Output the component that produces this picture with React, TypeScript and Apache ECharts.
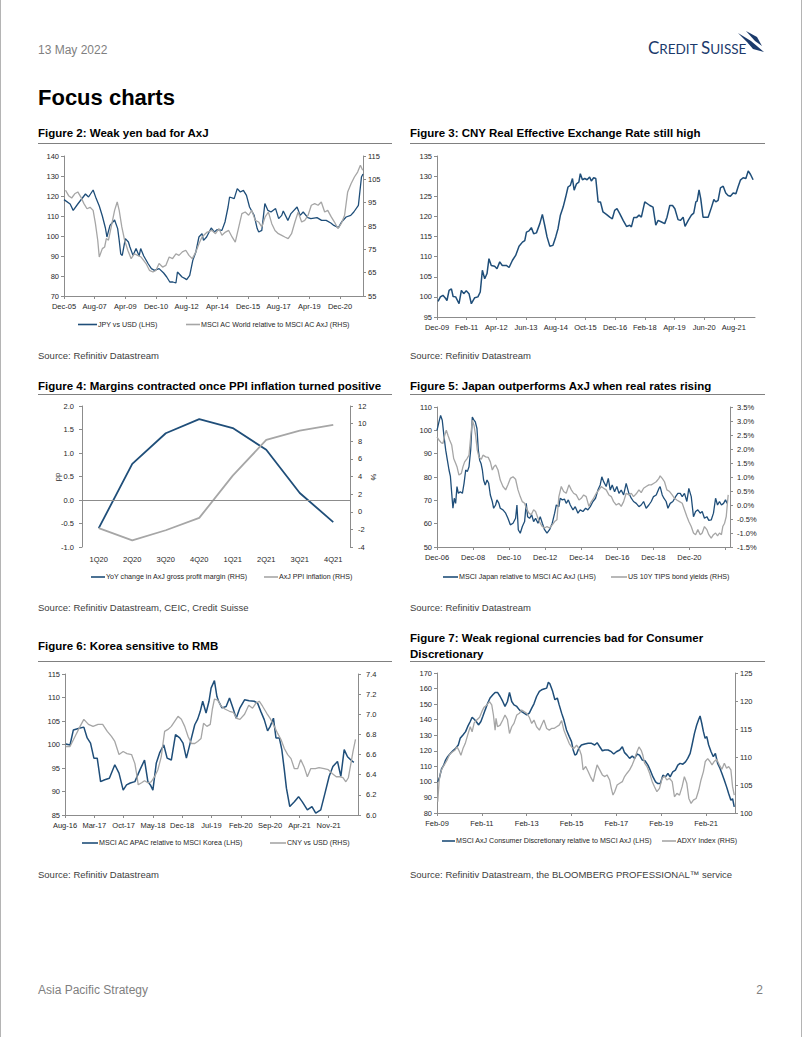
import React, { useEffect, useRef } from 'react';
import * as echarts from 'echarts';

const BLUE = '#1f4e79';
const GREY = '#a6a6a6';
const AXIS = '#8c8c8c';
const TXT = '#262626';
const SANS = "'Liberation Sans', Arial, Helvetica, sans-serif";
const FS = 7.5;
const LEG_FS = 7.1;

// ---------- Figure 2 (months since Dec-05) ----------
const fig2Ticks = ['Dec-05', 'Aug-07', 'Apr-09', 'Dec-10', 'Aug-12', 'Apr-14', 'Dec-15', 'Aug-17', 'Apr-19', 'Dec-20'];
const fig2RhsBase = 55;
const fig2Jpy = [
  [0, 118.2], [4, 116], [6, 112.8], [9, 116], [11, 118], [14, 121], [16, 119.5], [19, 123], [21, 118.7], [23, 115],
  [25, 110], [27, 104], [28, 99.5], [30, 105.3], [33, 108], [35, 103.7], [36, 97.8], [37, 91], [38, 90.3], [40, 98.7],
  [42, 97], [43, 94.5], [45, 90.3], [47, 93.7], [49, 90], [50, 93.7], [52, 90], [55, 86], [57, 83.7], [59, 82.8],
  [62, 83.7], [65, 81.5], [67, 79.5], [69, 77], [71, 77], [73, 76.5], [74, 82], [77, 79.5], [79, 78.7], [80, 78.2],
  [82, 80.3], [84, 87.8], [86, 92], [88, 99.5], [90, 101.2], [91, 97.8], [93, 99.5], [96, 104], [98, 102], [100, 103.2],
  [103, 102.8], [105, 107], [107, 114.5], [108, 119.5], [111, 118.7], [113, 123.7], [115, 122], [117, 122.8], [119, 120.3], [121, 114.5],
  [124, 110.3], [126, 103.7], [127, 102], [129, 102.8], [131, 116.2], [133, 112.8], [135, 112], [138, 113.7], [140, 108.7], [142, 110.3],
  [143, 112.5], [146, 107.8], [148, 111.2], [152, 114.5], [154, 110.3], [156, 112], [159, 109.2], [161, 108.7], [165, 109.2], [168, 107.8],
  [171, 107.8], [174, 106.5], [176, 105.3], [179, 104.2], [181, 107], [184, 109.5], [187, 110.3], [189, 112], [192, 115.3], [194, 129.5], [195, 131],
];
const fig2Msci = [
  [1, 100.3], [3, 98], [5, 97], [7, 98.8], [9, 99.6], [11, 97.4], [13, 94.6], [15, 92.4], [17, 93], [19, 91.7],
  [20.5, 86], [22, 78.9], [23, 71.7], [25, 75.3], [26.5, 76], [27.6, 79.6], [29, 78.9], [31, 85.3], [33, 91.7], [34.7, 95.3],
  [36, 91.7], [37.7, 84.6], [39.5, 79], [41.6, 74.6], [43.8, 71], [45.9, 73.1], [48, 72.4], [50.3, 71.7], [53.5, 68.9], [55.7, 66],
  [58, 65.3], [60, 66], [62, 68.9], [64.3, 67.4], [66.4, 68.1], [68.6, 71.7], [70.8, 71], [73, 73.1], [75, 72.4], [77.2, 73.9],
  [79.4, 74.6], [81.5, 72.4], [83.7, 71], [86, 73.9], [88, 77.4], [90, 80.3], [93.4, 82.4], [96.6, 83.1], [98.8, 81.7], [101, 83.9],
  [103, 81], [105.3, 82.4], [107.4, 83.1], [109.6, 80.3], [111.7, 78.1], [114, 84.6], [116, 90.3], [118.2, 91], [120.4, 89.6], [122.5, 91.7],
  [124.7, 87.4], [127, 86.7], [129, 84.6], [131.2, 88.9], [133.3, 91], [135.5, 86], [137.6, 83.1], [139.8, 81.7], [142, 81], [144, 80.3],
  [146.2, 79.6], [148.4, 81.7], [150.6, 86.7], [152.7, 91], [155, 86.7], [157, 87.4], [159.2, 89.6], [161.3, 93.9], [163.5, 94.6], [165.7, 93.9],
  [167.8, 95.3], [170, 91], [172, 91.7], [174.3, 88.9], [176.4, 86.7], [178.6, 83.9], [180.8, 86], [183, 89.6], [185, 99.6], [187.2, 103.1],
  [189.4, 106], [191.5, 108.1], [193.3, 111], [194.8, 108.9],
];

// ---------- Figure 3 (months since Dec-09) ----------
const fig3Ticks = ['Dec-09', 'Feb-11', 'Apr-12', 'Jun-13', 'Aug-14', 'Oct-15', 'Dec-16', 'Feb-18', 'Apr-19', 'Jun-20', 'Aug-21'];
const fig3Reer = [
  [0.5, 98.9], [1.6, 100], [2.8, 100.4], [4.1, 99.6], [4.7, 99.1], [5.7, 101.6], [6.8, 102], [7.6, 100.1], [8.8, 100], [10.4, 98.3],
  [11.5, 101.6], [12.6, 100.8], [13.8, 101.5], [15.1, 100.8], [16.2, 98.3], [17.8, 99.8], [19.3, 100], [20.4, 101.2], [21.4, 106.6], [22.5, 104.5],
  [23.6, 105.8], [24.5, 109.5], [25.6, 107.8], [27.2, 107.6], [28.3, 107], [29.6, 108.7], [30.8, 107.8], [32.7, 107.8], [34, 107.3], [35.6, 109.1],
  [37.1, 110.3], [38.7, 112.6], [40.3, 113.6], [41.4, 114], [42.2, 116.1], [43.4, 116.4], [44.5, 117.2], [45.6, 115.7], [46.9, 115.9], [48.5, 118.2],
  [49.7, 120.5], [50.8, 117.8], [51.9, 114.9], [53.2, 112.6], [54.7, 112.8], [56, 114.9], [57.1, 117], [58.2, 120.3], [59.5, 122.3], [60.7, 124.8],
  [61.8, 127.3], [62.9, 127.7], [63.9, 129.4], [64.7, 126.5], [65.8, 128.1], [66.9, 128.5], [67.6, 130.6], [68.6, 129.1], [69.7, 129.4], [70.8, 129.1],
  [72, 129.8], [72.8, 128.8], [73.9, 129.6], [74.9, 129.4], [76, 123.6], [77.1, 123.6], [78.3, 121.1], [79.9, 120.5], [81.5, 119.8], [82.7, 119.4],
  [83.8, 121.5], [84.9, 121.9], [86.2, 120.7], [87.8, 119], [89.4, 117.5], [90.9, 117.8], [91.7, 117.4], [92.8, 119.7], [94.1, 119.7], [95.3, 120.3],
  [96.4, 119.8], [98, 123.6], [99.1, 123.2], [100.4, 122.7], [101.9, 122.3], [103.2, 117.8], [104.3, 119], [105.9, 118.6], [107.4, 118.2], [108.5, 119.8],
  [109.8, 122.7], [111.1, 122.7], [112.2, 121.9], [113.7, 119.2], [114.8, 119], [116.1, 119.8], [117, 117.5], [118.5, 119], [120, 120.3], [121.1, 120.8],
  [122.1, 123.6], [122.7, 123.8], [123.6, 126.6], [124.4, 124.4], [125.5, 119.8], [126.8, 119.8], [127.9, 119.8], [129.5, 122.3], [130.6, 124.2], [131.5, 123.6],
  [132.6, 124], [133.7, 127.1], [135, 127.5], [136.2, 125.8], [137.3, 125.2], [138.4, 125], [139.7, 125.8], [141, 125.6], [142, 127.3], [143.1, 129],
  [144.4, 129.6], [145.7, 129.4], [146.8, 131.3], [147.9, 130.4], [149.1, 129.1],
];

// ---------- Figure 4 (quarters) ----------
const fig4Quarters = ['1Q20', '2Q20', '3Q20', '4Q20', '1Q21', '2Q21', '3Q21', '4Q21'];
const fig4Margin = [-0.6, 0.77, 1.42, 1.72, 1.53, 1.07, 0.15, -0.47];
const fig4Ppi = [-1.85, -3.25, -2.1, -0.7, 4.1, 8.15, 9.2, 9.85];

// ---------- Figure 5 (months since Dec-06) ----------
const fig5Ticks = ['Dec-06', 'Dec-08', 'Dec-10', 'Dec-12', 'Dec-14', 'Dec-16', 'Dec-18', 'Dec-20'];
const fig5Japan = [
  [0, 100], [1.3, 103.6], [2.4, 106.4], [3.5, 104.3], [4.7, 97.2], [5.8, 91.5], [6.9, 87.2], [8, 83], [8.9, 80.4], [9.8, 73],
  [10.6, 66.6], [11.5, 70.9], [12.4, 68.7], [13.3, 75.9], [14.2, 73], [15.5, 73.7], [16.9, 73], [18, 77.3], [19.1, 83], [20.2, 82.3],
  [21.3, 84.4], [22.4, 91.5], [23.5, 105.7], [24.4, 104.6], [25.5, 103.6], [26.6, 100.8], [27.5, 91.5], [28.4, 87.2], [29.3, 85.8], [30.2, 83],
  [31, 78.7], [32.1, 76.6], [33.3, 78.7], [34.4, 77.3], [35.5, 72.3], [36.8, 69.5], [37.7, 66.6], [39, 68], [39.9, 70.2], [41.2, 68.7],
  [42.1, 66.6], [43.9, 65.9], [45.7, 64.5], [47.2, 62.3], [48.8, 59.5], [50.6, 60.2], [52.3, 62.3], [53.2, 68], [54.1, 57.4], [55.4, 55.9],
  [56.8, 58.8], [58.3, 60.9], [59.4, 68.7], [60.3, 63], [61.6, 62.3], [63, 63.8], [64.3, 60.9], [65.6, 62.3], [67.2, 60.2], [68.7, 63],
  [70.1, 60.2], [71.6, 57.4], [73.2, 55.9], [74.9, 57.4], [76.7, 60.2], [78.3, 64.5], [79.4, 68], [81.1, 67.3], [82, 70.9], [83.4, 70.2],
  [84.9, 70.5], [86, 68.7], [87.4, 70.2], [88.7, 68], [90.5, 65.9], [92, 67.3], [93.8, 64.5], [95.3, 65.9], [97.1, 65.2], [98.9, 66.6],
  [100.4, 65.9], [102, 67.3], [103.8, 69.5], [105.5, 70.9], [107.1, 74.4], [108.6, 76.6], [109.7, 80.1], [110.9, 78], [112.6, 75.9], [114, 79.4],
  [115.3, 74.4], [116.6, 76.6], [118.2, 73.7], [119.7, 75.9], [121.1, 73], [122.6, 74.4], [124.2, 72.3], [125.9, 77.3], [127.7, 73], [129.3, 70.9],
  [130.8, 69.5], [132.6, 68.7], [134.4, 67.3], [135.9, 68], [137.5, 69.5], [139.2, 66.6], [141, 68], [142.6, 69.5], [144.1, 71.6], [145.9, 72.3],
  [147.7, 75.1], [148.5, 75.9], [149.9, 72.3], [151, 70.9], [152.5, 69.5], [153.7, 66.6], [155.2, 68.7], [157, 69.5], [158.8, 71.6], [160.3, 73],
  [161.9, 73], [163.2, 71.6], [164.7, 73], [166.3, 69.5], [167.6, 75.1], [169.2, 71.6], [170.7, 63], [172.1, 65.2], [173.6, 65.9], [175.2, 64.5],
  [176.5, 65.2], [178, 62.3], [179.6, 63], [180.9, 61.4], [182.5, 61.6], [184, 64.5], [185.4, 70.9], [186.7, 68], [188, 69.5], [189.3, 68],
  [190.7, 68.7], [192, 70.2], [193.1, 68.7],
];
const fig5Tips = [
  [0, 2.43], [1.3, 2.32], [2.9, 2.22], [4, 2.2], [5.1, 2.49], [6.2, 2.67], [7.3, 2.49], [8.4, 2.32], [9.8, 2.14], [11.1, 1.66],
  [12.4, 1.49], [13.3, 1.37], [14.6, 1.07], [16.2, 1.13], [17.3, 1.37], [18.4, 1.54], [20, 1.66], [21.3, 1.78], [22.4, 2.43], [23.5, 3.03],
  [24.6, 2.85], [25.7, 2.49], [26.8, 1.96], [27.9, 1.72], [29.5, 1.63], [30.6, 1.78], [32.4, 1.72], [34.1, 1.7], [35.5, 1.54], [36.8, 1.25],
  [37.9, 1.37], [39, 1.43], [40.6, 1.25], [42.1, 0.89], [43.9, 0.66], [45.7, 0.54], [47.2, 0.72], [48.8, 0.95], [50.6, 1.01], [52.3, 0.92],
  [53.9, 0.54], [55.4, 0.3], [56.8, 0.12], [58.3, 0.06], [59.4, -0.11], [61.2, -0.29], [62.7, -0.35], [64.3, -0.17], [65.6, -0.23], [67.2, -0.47],
  [68.7, -0.65], [70.1, -0.77], [71.6, -0.82], [73.2, -0.77], [74.9, -0.82], [76.7, -0.71], [78.3, -0.59], [79.8, -0.53], [81.1, 0.3], [82.7, 0.66],
  [84.3, 0.48], [86, 0.42], [87.8, 0.72], [89.4, 0.54], [90.9, 0.42], [92.7, 0.36], [94.5, 0.18], [96, 0.24], [97.6, 0.36], [99.3, 0.3],
  [101.1, -0.05], [102.7, 0.12], [104.2, 0.24], [106, 0.42], [107.8, 0.54], [109.3, 0.66], [110.9, 0.6], [112.6, 0.54], [114.4, 0.36], [116, 0.3],
  [117.5, 0.12], [119.3, 0], [121.1, 0.06], [122.6, -0.05], [124.2, 0.12], [125.9, 0.42], [127.7, 0.36], [129.3, 0.42], [130.8, 0.3], [132.6, 0.4],
  [134.4, 0.54], [135.9, 0.44], [137.5, 0.6], [139.2, 0.66], [141, 0.72], [142.6, 0.72], [144.1, 0.77], [145.9, 0.83], [147.7, 0.95], [148.5, 1.04],
  [149.9, 0.95], [151.4, 0.83], [153, 0.54], [154.8, 0.48], [156.5, 0.36], [158.1, 0.24], [159.6, 0.18], [161.4, 0.12], [163.2, 0.06], [164.7, -0.17],
  [166.3, -0.41], [167.6, -0.59], [169.2, -0.77], [170.7, -1.0], [172.1, -1.06], [173.6, -0.88], [175.2, -1.06], [176.5, -1.0], [178, -0.77], [179.6, -0.88],
  [180.9, -1.06], [182.5, -1.18], [184, -1.06], [185.4, -1.0], [186.7, -1.1], [188, -1.0], [189.3, -1.06], [190.2, -0.77], [191.4, -0.65], [192.5, -0.41],
  [193.1, -0.05], [193.8, 0.36],
];

// ---------- Figure 6 (months since Aug-16) ----------
const fig6Ticks = ['Aug-16', 'Mar-17', 'Oct-17', 'May-18', 'Dec-18', 'Jul-19', 'Feb-20', 'Sep-20', 'Apr-21', 'Nov-21'];
const fig6Korea = [
  [0.2, 100.1], [1.2, 99.9], [2, 103.1], [2.8, 103.3], [3.6, 103.5], [4.5, 103.7], [5.3, 101.4], [6.1, 100.3], [6.9, 97.1], [7.7, 97.1],
  [8.5, 92.1], [9.5, 92.5], [10.6, 92.8], [11.9, 95.7], [12.9, 93.9], [13.9, 90.3], [14.7, 91.4], [15.6, 91.8], [16.7, 92.1], [17.9, 94.6],
  [19, 96.7], [19.8, 92.1], [20.4, 91.4], [21, 90.3], [21.8, 96], [22.6, 98.2], [23.6, 99.9], [24.4, 97.1], [25.4, 96.7], [26.4, 102.1],
  [27.4, 101.4], [28.2, 100.3], [29, 97.1], [29.9, 100.3], [31, 104.2], [31.7, 105.4], [32.3, 107], [32.9, 109.2], [33.7, 106.7], [34.4, 109.2],
  [34.9, 112], [35.7, 113.6], [36.3, 110.2], [36.7, 109.2], [37.5, 107.8], [38.5, 108.1], [39.3, 109.9], [40.1, 107.8], [40.9, 105.6], [41.8, 107.8],
  [42.9, 109.5], [44, 109.3], [45.2, 109.2], [46, 108.8], [46.8, 107], [47.6, 105.3], [48.4, 102.9], [49, 103.8], [49.8, 105.6], [50.4, 101.4],
  [51.2, 101.4], [51.8, 98.9], [52.4, 94.6], [52.9, 90.7], [53.7, 86.8], [54.8, 87.8], [55.8, 88.9], [56.7, 87.8], [57.9, 86.1], [59, 86.8],
  [59.9, 85.4], [61.1, 86.1], [62.1, 89.6], [63.1, 93.2], [64, 95.3], [65.1, 96.4], [65.9, 93.2], [66.7, 98.9], [67.5, 97.4], [68.3, 96.7], [69, 96.2],
];
const fig6Cny = [
  [0.2, 6.68], [1.2, 6.68], [2.4, 6.78], [3.6, 6.88], [4.5, 6.95], [5.6, 6.9], [6.7, 6.88], [7.9, 6.9], [9, 6.9], [10.1, 6.83],
  [11.1, 6.78], [11.9, 6.73], [12.9, 6.6], [13.9, 6.63], [14.8, 6.61], [15.9, 6.6], [16.7, 6.51], [17.1, 6.41], [17.5, 6.3], [18.3, 6.32],
  [19, 6.34], [19.8, 6.32], [20.6, 6.33], [21.4, 6.38], [22.2, 6.45], [23, 6.58], [23.8, 6.83], [24.6, 6.85], [25.4, 6.88], [26.2, 6.93],
  [27, 6.98], [27.8, 6.95], [28.6, 6.88], [29.4, 6.78], [30.2, 6.71], [31, 6.71], [31.7, 6.73], [32.5, 6.76], [33.1, 6.91], [33.9, 6.88],
  [34.7, 6.9], [35.2, 7.05], [35.7, 7.15], [36.5, 7.14], [37.3, 7.08], [38.3, 7.05], [39.3, 7.03], [40.2, 7.02], [41, 6.96], [41.8, 6.95],
  [42.9, 7.0], [43.9, 7.09], [44.8, 7.06], [45.6, 7.11], [46.4, 7.13], [47.2, 7.08], [48.2, 7.01], [49, 6.96], [50, 6.88], [50.8, 6.81],
  [51.6, 6.75], [52.4, 6.66], [53.2, 6.6], [54, 6.56], [54.8, 6.46], [55.6, 6.46], [56.3, 6.55], [57.1, 6.48], [57.9, 6.38], [58.7, 6.46],
  [59.8, 6.46], [60.7, 6.47], [61.9, 6.46], [62.9, 6.45], [63.9, 6.41], [64.8, 6.38], [65.6, 6.38], [66.4, 6.37], [67.1, 6.33], [67.7, 6.37],
  [68.3, 6.51], [68.8, 6.63], [69.4, 6.75],
];

// ---------- Figure 7 (months since Feb-09) ----------
const fig7Ticks = ['Feb-09', 'Feb-11', 'Feb-13', 'Feb-15', 'Feb-17', 'Feb-19', 'Feb-21'];
const fig7ConsDisc = [
  [0.4, 100], [1.4, 103.2], [2.5, 108.6], [3.6, 110.8], [4.6, 114], [5.7, 116.2], [7.1, 118.3], [8.5, 120], [10, 121.6], [11.4, 123.7],
  [12.4, 128], [13.9, 130.2], [15.3, 132.3], [16.4, 135.5], [17.8, 138.8], [18.8, 141.6], [19.9, 140.3], [21, 138.8], [22.2, 136.6], [23.5, 138.8],
  [24.5, 142], [25.8, 146.3], [27, 150.2], [28.4, 153.9], [29.9, 156], [31.1, 157.5], [32.4, 157.5], [33.8, 154.9], [35.2, 151.7], [36.4, 148.5],
  [37.7, 151.7], [38.8, 157.5], [40, 151.7], [41.2, 149.5], [42.7, 148.5], [44.1, 146.3], [45.3, 145.2], [46.6, 144.2], [48, 143.1], [49.4, 144.2],
  [50.7, 147.4], [51.9, 150.2], [53.3, 154.9], [54.8, 158.2], [56, 159.2], [57.2, 159.7], [58.7, 160.3], [59.6, 164], [60.4, 163.1], [61.9, 158.2],
  [63.1, 152.8], [64.4, 153.9], [65.4, 149.5], [66.7, 144.2], [67.9, 139.9], [69.3, 133.4], [70.8, 129.1], [72, 125.9], [72.9, 120.5], [73.8, 117.2],
  [74.7, 117.9], [75.9, 121.6], [77.3, 123.7], [79.1, 124.4], [80.9, 124.8], [82.7, 124.8], [84.4, 123.7], [85.7, 125.2], [87.1, 122.6], [88.5, 120],
  [89.8, 120.5], [91.6, 120.5], [93.3, 119.4], [94.6, 117.9], [96, 119.4], [97.8, 120.5], [99.2, 122.6], [100.4, 118.8], [101.7, 117.2], [103.1, 115.1],
  [104.5, 116.6], [105.8, 115.1], [107, 117.9], [108.4, 117.2], [109.9, 114], [111.3, 113.6], [112.9, 110.8], [114.1, 107.6], [115.6, 103.2], [117, 100],
  [118.2, 98.9], [119.5, 98.9], [120.9, 104.3], [122.3, 103.2], [123.6, 105.4], [124.8, 103.2], [126.2, 106.5], [127.6, 107.6], [128.9, 110.8], [130.1, 111.9],
  [131.6, 111.4], [133, 112.9], [134.2, 115.1], [135.5, 118.3], [136.5, 123.7], [137.8, 131.2], [139, 136.6], [140.1, 140.3], [140.8, 142.4], [141.7, 137.7],
  [142.6, 132.3], [143.5, 128], [144.4, 129.1], [145.4, 123.7], [146.7, 119.4], [147.9, 116.2], [149, 118.3], [150.2, 111.9], [151.5, 108.6], [152.5, 105.4],
  [153.8, 101.1], [155, 96.8], [156.1, 92.5], [157.3, 88.2], [158.2, 89.2], [159.1, 83.9],
];
const fig7Adxy = [
  [0.4, 102], [1.1, 105.6], [1.8, 107.1], [2.8, 108], [3.9, 108.6], [5.3, 109.4], [6.8, 110.5], [8.2, 110.9], [9.6, 111.2], [10.7, 111.8],
  [11.7, 111.2], [12.8, 110.3], [13.9, 111.5], [15.1, 112.4], [16.4, 113.9], [17.8, 115.4], [18.8, 114.5], [19.9, 116.1], [21.3, 116.6], [22.8, 117.1],
  [24, 118.1], [25.2, 118.9], [26.7, 119.3], [28.1, 119.9], [29.3, 119.3], [30.2, 117.5], [31.1, 114.8], [31.6, 116.9], [32.4, 115.4], [33.8, 115.7],
  [35.2, 116.6], [36.4, 117.5], [37.7, 116.7], [38.8, 114.2], [40, 115.4], [41.2, 116], [42.7, 117.5], [44.1, 117.8], [45.3, 118.4], [46.6, 118.1],
  [48, 117.8], [49.4, 117.1], [50.7, 116], [51.9, 116.6], [53.3, 115.4], [54.8, 114.8], [56, 115.7], [57.2, 116.6], [58.7, 115.1], [60.1, 114.8],
  [61.3, 115.1], [62.6, 115.1], [64, 115.4], [65.4, 115.7], [66.7, 116.5], [67.9, 114.8], [69.3, 113.6], [70.8, 112.4], [72, 111.8], [73.2, 111.5],
  [74.7, 112.1], [76.1, 111.5], [77.3, 110.3], [78.2, 107.7], [79.6, 108.3], [80.9, 107.4], [82.1, 106.5], [83.6, 105.6], [84.6, 107.1], [85.7, 108.6],
  [87.1, 107.7], [88.5, 106.8], [89.8, 106.5], [91, 106.8], [92.4, 105.9], [93.3, 104.4], [94.2, 103.2], [95.1, 103.8], [96.4, 105], [97.8, 105.3],
  [99.2, 105.6], [100.4, 106.5], [101.7, 107.1], [103.1, 107.7], [104.5, 108.6], [105.8, 109.7], [107, 110.9], [108.1, 111.8], [109.3, 111.2], [110.2, 110.3],
  [111.1, 108.9], [112.4, 108.3], [113.8, 107.1], [115.2, 105.6], [116.4, 104.7], [117.7, 103.8], [119.1, 104.4], [120.5, 106.2], [121.8, 106.6], [123, 105.9],
  [124.4, 106.2], [125.9, 105.6], [127.1, 102.9], [128.4, 103.5], [129.8, 103.2], [131.2, 104.7], [132.4, 106.5], [133.7, 105.3], [134.8, 102.6], [136, 101.7],
  [137.2, 102.3], [138.7, 102.6], [140.1, 104.1], [141.3, 105.9], [142.6, 107.4], [143.6, 109.2], [144.9, 109.7], [146.1, 109.2], [147.2, 108.6], [148.4, 109.2],
  [149.7, 109.6], [151.1, 108.6], [152.5, 107.8], [153.8, 108.9], [155, 108], [156.1, 108.3], [157.3, 107.7], [158.2, 104.7], [159.1, 103.2],
];

const lbl = { fontFamily: SANS, fontSize: FS, color: TXT };

function mkY(gi: number, position: string, c: any) {
  return {
    type: 'value', gridIndex: gi, position, min: c.min, max: c.max, interval: c.step,
    axisLine: { show: true, onZero: false, lineStyle: { color: AXIS, width: 1 } },
    axisTick: { show: true, length: 3, lineStyle: { color: AXIS } },
    splitLine: { show: false },
    axisLabel: { ...lbl, margin: c.margin ?? 5, formatter: c.fmt, showMinLabel: true, showMaxLabel: true },
  };
}

function buildOption() {
  const grid: any[] = [], xAxis: any[] = [], yAxis: any[] = [], series: any[] = [];
  function addPanel(p: any) {
    const gi = grid.length;
    grid.push({ left: p.left, top: p.top, width: p.width, height: p.height });
    const xi = xAxis.length;
    if (p.cats) {
      xAxis.push({
        type: 'category', gridIndex: gi, data: p.cats, boundaryGap: true,
        axisLine: { show: false, onZero: false }, axisTick: { show: false },
        axisLabel: { ...lbl, margin: 8, interval: 0 },
      });
    } else {
      const step = p.xStep;
      xAxis.push({
        type: 'value', gridIndex: gi, min: 0, max: p.xMax, interval: step,
        axisLine: { show: true, onZero: false, lineStyle: { color: AXIS, width: 1 } },
        axisTick: { show: true, length: 3, lineStyle: { color: AXIS } },
        splitLine: { show: false },
        axisLabel: {
          ...lbl, margin: 6, showMinLabel: true, showMaxLabel: false, hideOverlap: false,
          formatter: (v: number) => {
            const k = Math.round(v / step);
            return Math.abs(v - k * step) < 1e-6 && p.xLabels[k] ? p.xLabels[k] : '';
          },
        },
      });
    }
    const yl = yAxis.length;
    yAxis.push(mkY(gi, 'left', p.yl));
    let yr = yl;
    if (p.yr) { yr = yAxis.length; yAxis.push(mkY(gi, 'right', p.yr)); }
    p.series.forEach((s: any) => {
      series.push({
        type: 'line', name: s.name, xAxisIndex: xi, yAxisIndex: s.right ? yr : yl, data: s.data,
        showSymbol: false, symbol: 'none', smooth: false,
        lineStyle: { color: s.color, width: s.width ?? 1.3 }, itemStyle: { color: s.color },
        markLine: s.markLine, z: s.z ?? 2,
      });
    });
  }

  addPanel({
    left: 64, top: 156, width: 299, height: 140, xMax: 195, xStep: 20, xLabels: fig2Ticks,
    yl: { min: 70, max: 140, step: 10 },
    yr: { min: 0, max: 60, step: 10, fmt: (v: number) => String(v + fig2RhsBase) },
    series: [
      { name: 'JPY vs USD (LHS)', data: fig2Jpy, color: BLUE },
      { name: 'MSCI AC World relative to MSCI AC AxJ (RHS)', data: fig2Msci.map(([m, v]) => [m, v - fig2RhsBase]), color: GREY, right: true },
    ],
  });
  addPanel({
    left: 437, top: 156, width: 318, height: 161, xMax: 150, xStep: 14, xLabels: fig3Ticks,
    yl: { min: 95, max: 135, step: 5 },
    series: [{ name: 'CNY REER', data: fig3Reer, color: BLUE, width: 1.5 }],
  });
  addPanel({
    left: 82, top: 406, width: 268, height: 141, cats: fig4Quarters,
    yl: { min: -1, max: 2, step: 0.5, fmt: (v: number) => v.toFixed(1), margin: 8 },
    yr: { min: -4, max: 12, step: 2, margin: 8 },
    series: [
      {
        name: 'YoY change in AxJ gross profit margin (RHS)', data: fig4Margin, color: BLUE, width: 1.8,
        markLine: { silent: true, symbol: 'none', label: { show: false }, lineStyle: { color: AXIS, width: 1, type: 'solid' }, data: [{ yAxis: 0 }] },
      },
      { name: 'AxJ PPI inflation (RHS)', data: fig4Ppi, color: GREY, width: 1.8, right: true },
    ],
  });
  addPanel({
    left: 437, top: 407, width: 293, height: 140, xMax: 195, xStep: 24, xLabels: fig5Ticks,
    yl: { min: 50, max: 110, step: 10 },
    yr: { min: -1.5, max: 3.5, step: 0.5, fmt: (v: number) => v.toFixed(1) + '%', margin: 7 },
    series: [
      { name: 'MSCI Japan relative to MSCI AC AxJ (LHS)', data: fig5Japan, color: BLUE },
      { name: 'US 10Y TIPS bond yields (RHS)', data: fig5Tips, color: GREY, right: true },
    ],
  });
  addPanel({
    left: 65, top: 674, width: 293, height: 141, xMax: 70, xStep: 7, xLabels: fig6Ticks,
    yl: { min: 85, max: 115, step: 5 },
    yr: { min: 6.0, max: 7.4, step: 0.2, fmt: (v: number) => v.toFixed(1), margin: 8 },
    series: [
      { name: 'MSCI AC APAC relative to MSCI Korea (LHS)', data: fig6Korea, color: BLUE, width: 1.5 },
      { name: 'CNY vs USD (RHS)', data: fig6Cny, color: GREY, right: true },
    ],
  });
  addPanel({
    left: 437, top: 673, width: 298, height: 140, xMax: 159.5, xStep: 24, xLabels: fig7Ticks,
    yl: { min: 80, max: 170, step: 10 },
    yr: { min: 100, max: 125, step: 5 },
    series: [
      { name: 'MSCI AxJ Consumer Discretionary relative to MSCI AxJ (LHS)', data: fig7ConsDisc, color: BLUE, width: 1.5 },
      { name: 'ADXY Index (RHS)', data: fig7Adxy, color: GREY, right: true },
    ],
  });

  const g: any[] = [];
  const text = (x: number, y: number, t: string, o: any = {}) => g.push({
    type: 'text', x, y, rotation: o.rotation ?? 0, silent: true,
    style: {
      text: t, fill: o.color ?? TXT, fontSize: o.size ?? FS, fontFamily: o.family ?? SANS,
      fontWeight: o.weight ?? 'normal', textAlign: o.align ?? 'left', textVerticalAlign: 'middle',
    },
  });
  const line = (x1: number, y1: number, x2: number, y2: number, color: string, w = 1) => g.push({
    type: 'line', silent: true, shape: { x1, y1, x2, y2 }, style: { stroke: color, lineWidth: w },
  });
  const legend = (x1: number, x2: number, y: number, color: string, t: string) => {
    line(x1, y, x2, y, color, 1.6);
    text(x2 + 1, y, t, { size: LEG_FS });
  };

  // page frame
  line(0.5, 0, 0.5, 1037, '#b4b4b4');
  line(801.5, 0, 801.5, 1037, '#b4b4b4');

  // header
  text(38, 50, '13 May 2022', { size: 12, color: '#7f7f7f' });
  g.push({
    type: 'text', x: 648, y: 47, silent: true,
    style: {
      text: '{a|C}{b|REDIT} {a|S}{b|UISSE}', textVerticalAlign: 'middle', textAlign: 'left',
      rich: {
        a: { fontSize: 17, fontFamily: "Lato, 'Open Sans', sans-serif", fill: '#1b3a6b', color: '#1b3a6b', verticalAlign: 'bottom' },
        b: { fontSize: 13.5, fontFamily: "Lato, 'Open Sans', sans-serif", fill: '#1b3a6b', color: '#1b3a6b', verticalAlign: 'bottom' },
      },
    },
  });
  g.push({ type: 'polygon', silent: true, shape: { points: [[738, 33], [751, 41], [764, 52], [753, 49], [747, 42]] }, style: { fill: '#1b3a6b' } });
  g.push({ type: 'polygon', silent: true, shape: { points: [[746, 31], [757, 37], [762, 46], [755, 41]] }, style: { fill: '#1b3a6b' } });
  text(38, 97, 'Focus charts', { size: 22, weight: 'bold', color: '#000' });

  // titles
  const title = (x: number, y: number, t: string) => text(x, y, t, { size: 11.5, weight: 'bold', color: '#000' });
  title(38, 133, 'Figure 2: Weak yen bad for AxJ');
  title(410, 133, 'Figure 3: CNY Real Effective Exchange Rate still high');
  line(38, 143.5, 392, 143.5, '#808080');
  line(410, 143.5, 765, 143.5, '#808080');
  title(38, 386, 'Figure 4: Margins contracted once PPI inflation turned positive');
  title(410, 386, 'Figure 5: Japan outperforms AxJ when real rates rising');
  line(38, 394.5, 392, 394.5, '#808080');
  line(410, 394.5, 765, 394.5, '#808080');
  title(38, 646, 'Figure 6: Korea sensitive to RMB');
  title(410, 638, 'Figure 7: Weak regional currencies bad for Consumer');
  title(410, 654, 'Discretionary');
  line(38, 661.5, 392, 661.5, '#808080');
  line(410, 661.5, 765, 661.5, '#808080');

  // legends
  legend(78, 97, 324.5, BLUE, 'JPY vs USD (LHS)');
  legend(186, 200, 324.5, GREY, 'MSCI AC World relative to MSCI AC AxJ (RHS)');
  legend(91, 105, 577, BLUE, 'YoY change in AxJ gross profit margin (RHS)');
  legend(264, 278, 577, GREY, 'AxJ PPI inflation (RHS)');
  legend(443, 458, 577, BLUE, 'MSCI Japan relative to MSCI AC AxJ (LHS)');
  legend(611, 627, 577, GREY, 'US 10Y TIPS bond yields (RHS)');
  legend(82, 98, 843, BLUE, 'MSCI AC APAC relative to MSCI Korea (LHS)');
  legend(270, 286, 843, GREY, 'CNY vs USD (RHS)');
  legend(442, 455, 841, BLUE, 'MSCI AxJ Consumer Discretionary relative to MSCI AxJ (LHS)');
  legend(662, 676, 841, GREY, 'ADXY Index (RHS)');

  // axis names fig 4
  text(57, 477, 'pp', { rotation: Math.PI / 2, align: 'center' });
  text(373, 477, '%', { rotation: -Math.PI / 2, align: 'center' });

  // sources
  const src = (x: number, y: number, t: string) => text(x, y, t, { size: 9.5, color: '#404040' });
  src(38, 355, 'Source: Refinitiv Datastream');
  src(410, 355, 'Source: Refinitiv Datastream');
  src(38, 607, 'Source: Refinitiv Datastream, CEIC, Credit Suisse');
  src(410, 607, 'Source: Refinitiv Datastream');
  src(38, 874, 'Source: Refinitiv Datastream');
  src(410, 874, 'Source: Refinitiv Datastream, the BLOOMBERG PROFESSIONAL\u2122 service');

  // footer
  text(38, 990, 'Asia Pacific Strategy', { size: 12, color: '#7f7f7f' });
  text(763, 990, '2', { size: 12, color: '#7f7f7f', align: 'right' });

  return {
    animation: false,
    backgroundColor: '#ffffff',
    textStyle: { fontFamily: SANS },
    grid, xAxis, yAxis, series, graphic: g,
  };
}

export default function App() {
  const ref = useRef<HTMLDivElement>(null);
  useEffect(() => {
    const chart = echarts.init(ref.current!, null, { renderer: 'svg' });
    chart.setOption(buildOption() as any);
    return () => chart.dispose();
  }, []);
  return <div ref={ref} style={{ position: 'absolute', left: 0, top: 0, width: 802, height: 1037, background: '#fff' }} />;
}
